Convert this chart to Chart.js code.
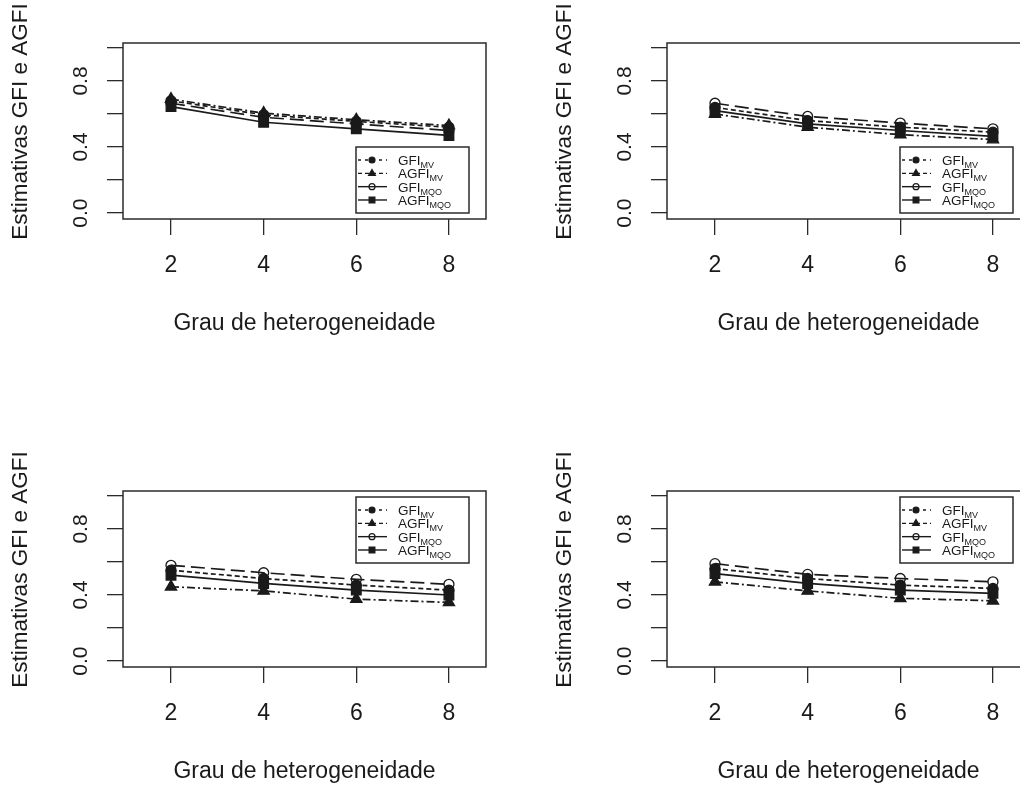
<!DOCTYPE html>
<html><head><meta charset="utf-8">
<script src="https://cdn.jsdelivr.net/npm/chart.js@4.4.1/dist/chart.umd.min.js"></script>
<style>
html,body{margin:0;padding:0;background:#fff;overflow:hidden;}
#wrap{position:relative;width:1020px;height:787px;overflow:hidden;background:#fff;}
.p{position:absolute;width:544px;height:448px;}
canvas{display:block;}
</style></head><body>
<div id="wrap">
<div class="p" style="left:0;top:0"><canvas id="c1" width="544" height="448"></canvas></div>
<div class="p" style="left:544px;top:0"><canvas id="c2" width="544" height="448"></canvas></div>
<div class="p" style="left:0;top:448px"><canvas id="c3" width="544" height="448"></canvas></div>
<div class="p" style="left:544px;top:448px"><canvas id="c4" width="544" height="448"></canvas></div>
</div>
<script>
// ---- data ----
const categories = [2, 4, 6, 8];
const xTicks = [2, 4, 6, 8];
const yTicks = [0, 0.2, 0.4, 0.6, 0.8, 1.0];
const yLabelled = ['0.0', '', '0.4', '', '0.8', ''];
const xTitle = 'Grau de heterogeneidade';
const yTitle = 'Estimativas GFI e AGFI';
const seriesMain = ['GFI', 'AGFI', 'GFI', 'AGFI'];
const seriesSub = ['MV', 'MV', 'MQO', 'MQO'];

// panel 1 (top-left)
const p1GfiMV   = [0.68, 0.595, 0.555, 0.52];
const p1AgfiMV  = [0.69, 0.605, 0.565, 0.53];
const p1GfiMQO  = [0.665, 0.58, 0.54, 0.50];
const p1AgfiMQO = [0.645, 0.55, 0.51, 0.47];
// panel 2 (top-right)
const p2GfiMV   = [0.64, 0.56, 0.52, 0.49];
const p2AgfiMV  = [0.60, 0.52, 0.475, 0.445];
const p2GfiMQO  = [0.665, 0.585, 0.545, 0.51];
const p2AgfiMQO = [0.62, 0.54, 0.50, 0.465];
// panel 3 (bottom-left)
const p3GfiMV   = [0.55, 0.50, 0.46, 0.43];
const p3AgfiMV  = [0.45, 0.425, 0.375, 0.355];
const p3GfiMQO  = [0.58, 0.535, 0.495, 0.465];
const p3AgfiMQO = [0.52, 0.47, 0.43, 0.40];
// panel 4 (bottom-right)
const p4GfiMV   = [0.56, 0.50, 0.46, 0.44];
const p4AgfiMV  = [0.48, 0.425, 0.38, 0.365];
const p4GfiMQO  = [0.59, 0.525, 0.50, 0.48];
const p4AgfiMQO = [0.53, 0.47, 0.43, 0.41];

// ---- styles ----
const FONT = "'Liberation Sans', Arial, sans-serif";
const INK = '#1a1a1a';
const lineDash = [[5, 3], [8, 3, 2, 3], [14, 6], []];
const legendDash = [[3, 4], [4, 3], [], []];
const pStyle = ['circle', 'triangle', 'circle', 'rect'];
const pRadius = [5, 6.5, 5, 6.8];
const pFill = [INK, INK, 'rgba(0,0,0,0)', INK];
const drawOrder = [3, 2, 1, 0];

function toXY(vals) { return categories.map((c, i) => ({x: c, y: vals[i]})); }

function symbol(ctx, style, x, y, r, fill) {
  ctx.beginPath();
  if (style === 'circle') {
    ctx.arc(x, y, r, 0, Math.PI * 2);
  } else if (style === 'triangle') {
    ctx.moveTo(x, y - r);
    ctx.lineTo(x + r * 0.866, y + r * 0.5);
    ctx.lineTo(x - r * 0.866, y + r * 0.5);
    ctx.closePath();
  } else {
    const s = r * Math.SQRT1_2;
    ctx.rect(x - s, y - s, 2 * s, 2 * s);
  }
  ctx.fillStyle = fill; ctx.fill();
  ctx.lineWidth = 1.2; ctx.strokeStyle = INK; ctx.stroke();
}

const frameLegend = {
  id: 'frameLegend',
  afterDraw(chart, args, opts) {
    const ctx = chart.ctx, a = chart.chartArea;
    ctx.save();
    ctx.setLineDash([]);
    ctx.strokeStyle = '#2b2b2b'; ctx.lineWidth = 1.5;
    ctx.strokeRect(a.left, a.top, a.right - a.left, a.bottom - a.top);
    // y-axis title (R centres it slightly above the box centre here)
    ctx.save();
    ctx.translate(21, (a.top + a.bottom) / 2 - 9.5);
    ctx.rotate(-Math.PI / 2);
    ctx.fillStyle = INK; ctx.textAlign = 'center'; ctx.textBaseline = 'middle';
    ctx.font = '22.5px ' + FONT;
    ctx.fillText(yTitle, 0, 0);
    ctx.restore();
    // legend
    const bx = a.left + opts.dx, by = a.top + opts.dy, bw = 113, bh = 66;
    ctx.strokeRect(bx, by, bw, bh);
    for (let i = 0; i < 4; i++) {
      const ry = by + 13 + i * 13.33;
      ctx.setLineDash(legendDash[i]);
      ctx.lineWidth = 1.4; ctx.strokeStyle = INK;
      ctx.beginPath(); ctx.moveTo(bx + 2, ry); ctx.lineTo(bx + 31, ry); ctx.stroke();
      ctx.setLineDash([]);
      symbol(ctx, pStyle[i], bx + 16, ry, pRadius[i] * 0.6, pFill[i]);
      ctx.fillStyle = INK;
      ctx.textBaseline = 'alphabetic'; ctx.textAlign = 'left';
      ctx.font = '13.5px ' + FONT;
      const t = seriesMain[i];
      ctx.fillText(t, bx + 42, ry + 5);
      const w = ctx.measureText(t).width;
      ctx.font = '9px ' + FONT;
      ctx.fillText(seriesSub[i], bx + 42 + w, ry + 8);
    }
    ctx.restore();
  }
};

function makePanel(id, g1, a1, g2, a2, legendDy) {
  const series = [g1, a1, g2, a2];
  const datasets = series.map((vals, i) => ({
    label: seriesMain[i] + ' ' + seriesSub[i],
    data: toXY(vals),
    borderColor: INK,
    borderWidth: 1.7,
    borderDash: lineDash[i],
    backgroundColor: pFill[i],
    pointStyle: pStyle[i],
    pointRadius: pRadius[i],
    pointBackgroundColor: pFill[i],
    pointBorderColor: INK,
    pointBorderWidth: 1.3,
    tension: 0,
    order: drawOrder[i]
  }));
  return new Chart(document.getElementById(id), {
    type: 'line',
    data: {datasets},
    plugins: [frameLegend],
    options: {
      responsive: false,
      animation: false,
      devicePixelRatio: 1,
      layout: {padding: {left: 0, top: 43, right: 58, bottom: 0}},
      plugins: {
        legend: {display: false},
        tooltip: {enabled: false},
        frameLegend: {dx: 233, dy: legendDy}
      },
      scales: {
        x: {
          type: 'linear', min: 0.964, max: 8.80,
          afterBuildTicks: s => { s.ticks = xTicks.map(v => ({value: v})); },
          afterFit: s => { s.height = 229; },
          grid: {drawOnChartArea: false, drawTicks: true, tickLength: 16, color: '#2b2b2b', lineWidth: 1.3},
          border: {display: false},
          ticks: {autoSkip: false, maxRotation: 0, padding: 17, color: INK,
                  font: {family: FONT, size: 23},
                  callback: v => String(v)},
          title: {display: true, text: xTitle, color: INK, font: {family: FONT, size: 23},
                  padding: {top: 0, bottom: 111}}
        },
        y: {
          type: 'linear', min: -0.036, max: 1.030,
          afterBuildTicks: s => { s.ticks = yTicks.map(v => ({value: v})); },
          afterFit: s => { s.width = 123; },
          grid: {drawOnChartArea: false, drawTicks: true, tickLength: 16, color: '#2b2b2b', lineWidth: 1.3},
          border: {display: false},
          ticks: {autoSkip: false, minRotation: 90, maxRotation: 90, crossAlign: 'center',
                  padding: 11, color: INK, font: {family: FONT, size: 21},
                  callback: (v, i) => yLabelled[i]},
          title: {display: false, text: yTitle}
        }
      }
    }
  });
}

makePanel('c1', p1GfiMV, p1AgfiMV, p1GfiMQO, p1AgfiMQO, 104);
makePanel('c2', p2GfiMV, p2AgfiMV, p2GfiMQO, p2AgfiMQO, 104);
makePanel('c3', p3GfiMV, p3AgfiMV, p3GfiMQO, p3AgfiMQO, 6);
makePanel('c4', p4GfiMV, p4AgfiMV, p4GfiMQO, p4AgfiMQO, 6);
</script>
</body></html>
